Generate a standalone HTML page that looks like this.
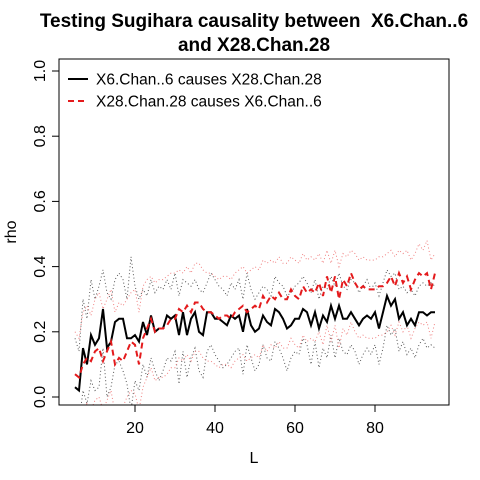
<!DOCTYPE html>
<html><head><meta charset="utf-8"><style>
html,body{margin:0;padding:0;background:#fff;}
svg{display:block;font-family:"Liberation Sans",Arial,sans-serif;}
</style></head><body>
<svg id="chart" width="480" height="480" viewBox="0 0 480 480">
<text x="254" y="27" text-anchor="middle" font-size="19" font-weight="bold" xml:space="preserve" style="white-space:pre">Testing Sugihara causality between  X6.Chan..6</text>
<text x="254" y="51" text-anchor="middle" font-size="19" font-weight="bold">and X28.Chan.28</text>
<g id="plot"></g>
<rect x="59" y="59" width="390" height="346" fill="none" stroke="#000" stroke-width="1"/>
<text x="254" y="463" text-anchor="middle" font-size="16">L</text>
<text transform="translate(16,232) rotate(-90)" text-anchor="middle" font-size="16">rho</text>
<g>
<line x1="68" y1="79" x2="88" y2="79" stroke="#000" stroke-width="2"/>
<text x="96" y="84.5" font-size="15.5">X6.Chan..6 causes X28.Chan.28</text>
<line x1="68" y1="101" x2="88" y2="101" stroke="#e41a1c" stroke-width="2" stroke-dasharray="6,4"/>
<text x="96" y="106.5" font-size="15.5">X28.Chan.28 causes X6.Chan..6</text>
</g>
</svg>
<script>
const Lvals = [];for(let l=5;l<=95;l++)Lvals.push(l);
const xTicks = [20,40,60,80];
const yTicks = [0.0,0.2,0.4,0.6,0.8,1.0];
const blackRho = [0.03,0.02,0.15,0.10,0.19,0.16,0.18,0.27,0.15,0.17,0.23,0.24,0.24,0.18,0.18,0.19,0.17,0.23,0.19,0.25,0.20,0.21,0.21,0.25,0.24,0.25,0.19,0.26,0.19,0.24,0.26,0.20,0.19,0.26,0.26,0.24,0.24,0.23,0.22,0.25,0.24,0.25,0.20,0.27,0.22,0.20,0.21,0.25,0.23,0.22,0.27,0.26,0.24,0.21,0.22,0.24,0.24,0.27,0.26,0.22,0.26,0.21,0.25,0.23,0.28,0.24,0.28,0.24,0.24,0.26,0.24,0.22,0.24,0.25,0.24,0.26,0.21,0.26,0.31,0.28,0.30,0.24,0.26,0.22,0.24,0.22,0.26,0.26,0.25,0.26,0.26];
const redRho = [0.07,0.06,0.10,0.12,0.11,0.14,0.15,0.11,0.14,0.17,0.10,0.12,0.11,0.14,0.17,0.16,0.10,0.18,0.21,0.24,0.20,0.21,0.21,0.22,0.24,0.24,0.27,0.26,0.28,0.26,0.29,0.29,0.27,0.26,0.26,0.25,0.24,0.25,0.25,0.24,0.26,0.27,0.28,0.26,0.27,0.28,0.27,0.31,0.29,0.31,0.30,0.32,0.30,0.30,0.33,0.31,0.30,0.34,0.32,0.33,0.32,0.35,0.31,0.37,0.32,0.37,0.30,0.36,0.34,0.38,0.35,0.33,0.34,0.33,0.33,0.33,0.34,0.34,0.35,0.37,0.34,0.38,0.35,0.37,0.33,0.36,0.38,0.37,0.38,0.33,0.38];
const blackUpper = [0.18,0.14,0.30,0.24,0.36,0.30,0.34,0.39,0.32,0.30,0.36,0.38,0.36,0.30,0.43,0.34,0.30,0.33,0.31,0.36,0.32,0.34,0.33,0.36,0.33,0.38,0.31,0.36,0.35,0.34,0.36,0.33,0.32,0.35,0.38,0.36,0.34,0.33,0.31,0.35,0.33,0.36,0.30,0.38,0.33,0.30,0.32,0.34,0.33,0.31,0.37,0.35,0.34,0.31,0.32,0.34,0.35,0.37,0.35,0.32,0.36,0.30,0.34,0.33,0.37,0.34,0.38,0.34,0.33,0.36,0.35,0.32,0.34,0.36,0.33,0.35,0.31,0.35,0.39,0.37,0.38,0.33,0.34,0.32,0.33,0.31,0.34,0.35,0.34,0.35,0.34];
const blackLower = [-0.10,-0.08,0.02,-0.02,0.05,0.02,0.03,0.15,0.00,0.03,0.10,0.11,0.08,0.04,-0.04,0.05,0.02,0.10,0.06,0.12,0.08,0.05,0.08,0.12,0.11,0.14,0.04,0.14,0.06,0.12,0.15,0.08,0.06,0.14,0.16,0.13,0.11,0.09,0.10,0.12,0.14,0.15,0.07,0.16,0.12,0.08,0.10,0.16,0.12,0.11,0.17,0.15,0.12,0.08,0.12,0.14,0.13,0.18,0.16,0.10,0.17,0.09,0.15,0.12,0.19,0.12,0.18,0.14,0.13,0.16,0.14,0.10,0.13,0.15,0.13,0.16,0.10,0.15,0.22,0.19,0.21,0.14,0.17,0.13,0.15,0.12,0.16,0.18,0.15,0.16,0.15];
const redUpper = [0.20,0.18,0.26,0.28,0.25,0.30,0.32,0.27,0.30,0.33,0.26,0.29,0.28,0.30,0.32,0.33,0.26,0.34,0.36,0.37,0.35,0.36,0.36,0.37,0.38,0.38,0.39,0.38,0.40,0.38,0.41,0.41,0.39,0.38,0.38,0.37,0.36,0.37,0.37,0.36,0.38,0.39,0.40,0.38,0.39,0.40,0.39,0.42,0.41,0.42,0.41,0.43,0.41,0.41,0.43,0.42,0.41,0.44,0.42,0.43,0.42,0.44,0.41,0.45,0.41,0.45,0.40,0.44,0.43,0.45,0.44,0.42,0.43,0.42,0.42,0.42,0.43,0.43,0.44,0.45,0.43,0.45,0.44,0.45,0.42,0.44,0.47,0.45,0.48,0.42,0.44];
const redLower = [-0.06,-0.08,-0.04,-0.02,-0.04,-0.01,0.00,-0.04,-0.01,0.02,-0.05,-0.03,-0.03,0.00,0.02,0.01,-0.04,0.03,0.06,0.09,0.05,0.06,0.06,0.07,0.09,0.09,0.12,0.11,0.13,0.11,0.14,0.14,0.12,0.11,0.11,0.10,0.09,0.10,0.10,0.09,0.11,0.12,0.13,0.11,0.12,0.13,0.12,0.16,0.14,0.16,0.15,0.17,0.15,0.15,0.18,0.16,0.15,0.19,0.17,0.18,0.17,0.20,0.16,0.22,0.17,0.22,0.15,0.21,0.19,0.23,0.20,0.18,0.19,0.18,0.18,0.18,0.19,0.19,0.20,0.22,0.19,0.23,0.20,0.22,0.18,0.21,0.23,0.22,0.23,0.18,0.23];

const NS="http://www.w3.org/2000/svg";
const plot=document.getElementById('plot');
function xs(v){return 135+(v-20)*4;}
function ys(v){return 397-v*326;}
function mk(tag,attrs){const e=document.createElementNS(NS,tag);for(const k in attrs)e.setAttribute(k,attrs[k]);return e;}

const clip=mk('clipPath',{id:'clp'});clip.appendChild(mk('rect',{x:59,y:59,width:390,height:346}));
const defs=mk('defs',{});defs.appendChild(clip);plot.appendChild(defs);
const g=mk('g',{'clip-path':'url(#clp)'});plot.appendChild(g);

function line(arr,stroke,w,dash,name){
  const pts=arr.map((v,i)=>xs(Lvals[i]).toFixed(1)+','+ys(v).toFixed(1)).join(' ');
  const p=mk('polyline',{points:pts,fill:'none',stroke:stroke,'stroke-width':w,'stroke-dasharray':dash});
  
  
  g.appendChild(p);
}
line(blackUpper,'#555',1,'1,2.5','black-upper-bound');
line(blackLower,'#555',1,'1,2.5','black-lower-bound');
line(redUpper,'#f08080',1,'1,2.5','red-upper-bound');
line(redLower,'#f08080',1,'1,2.5','red-lower-bound');
line(blackRho,'#000',2,'none','series-x6-causes-x28');
line(redRho,'#e41a1c',2,'6,4','series-x28-causes-x6');

xTicks.forEach(t=>{
  const l=mk('line',{x1:xs(t),x2:xs(t),y1:405,y2:412,stroke:'#000'});
  
  
  plot.appendChild(l);
  const tx=mk('text',{x:xs(t),y:433,'text-anchor':'middle','font-size':16});
  
  
  tx.textContent=t;plot.appendChild(tx);
});
yTicks.forEach(t=>{
  const l=mk('line',{x1:52,x2:59,y1:ys(t),y2:ys(t),stroke:'#000'});
  
  
  plot.appendChild(l);
  const tx=mk('text',{transform:'translate(45,'+ys(t)+') rotate(-90)','text-anchor':'middle','font-size':16});
  
  
  tx.textContent=t.toFixed(1);plot.appendChild(tx);
});
</script>
</body></html>
